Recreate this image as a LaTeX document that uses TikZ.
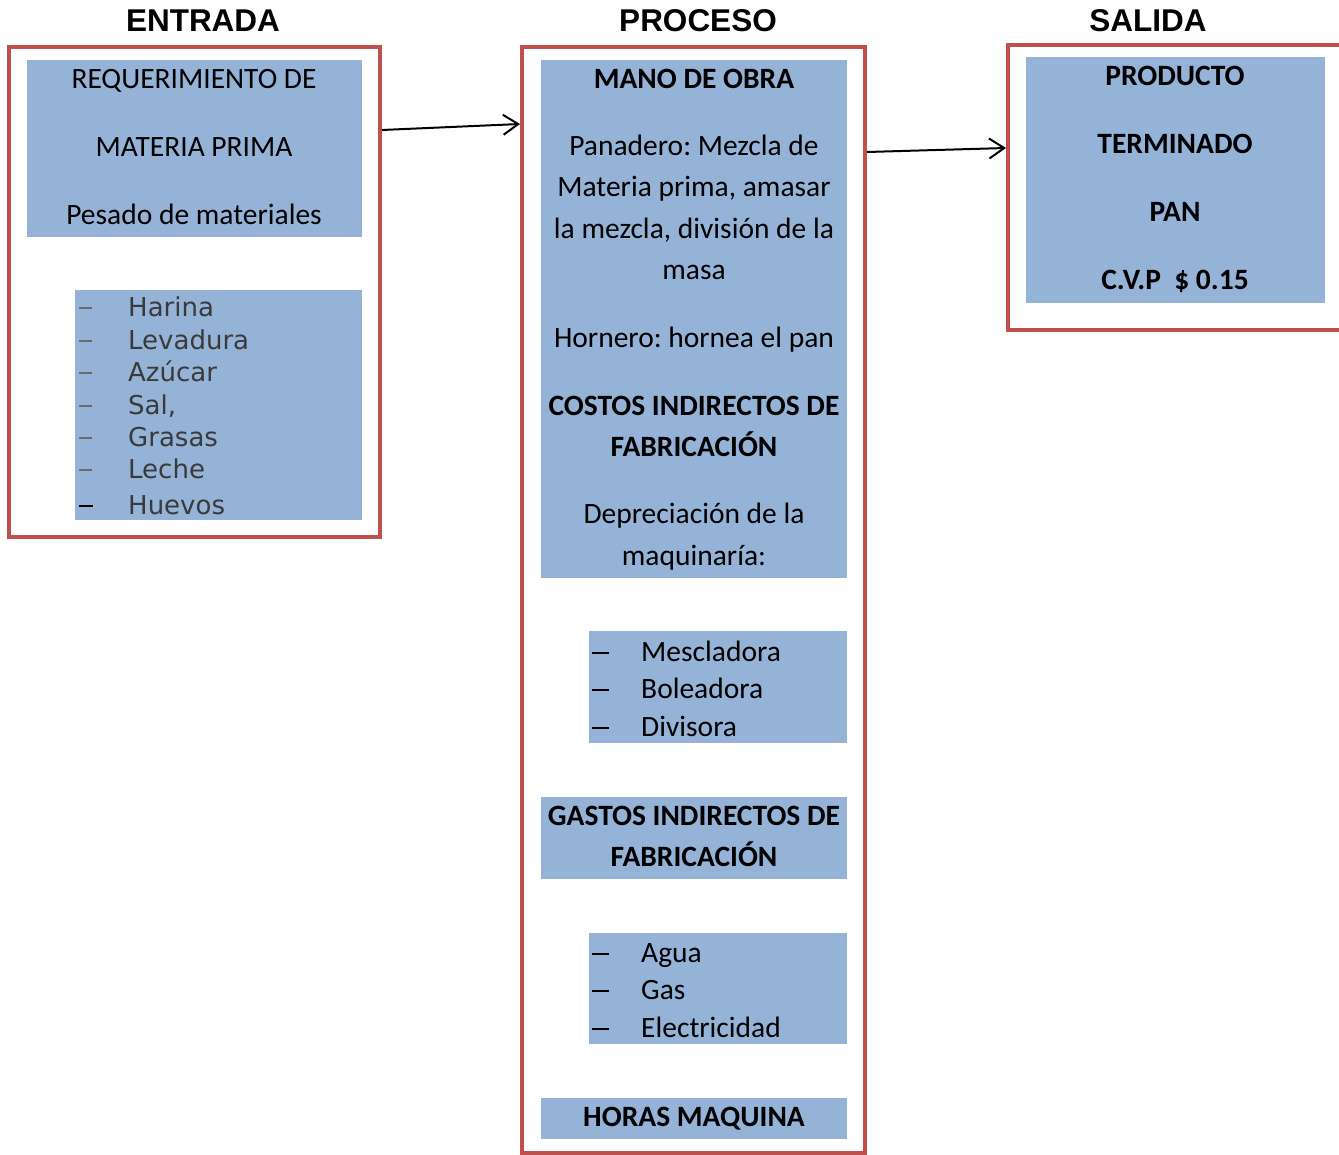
\documentclass[tikz,border=0pt]{standalone}
\usepackage{fontspec}
\setmainfont{Carlito}
\newfontfamily\hfont{Liberation Sans}
\newfontfamily\vfont{DejaVu Sans}
\usetikzlibrary{arrows.meta}
\definecolor{redb}{HTML}{C0504D}
\definecolor{blueb}{HTML}{95B3D7}
\definecolor{grayt}{HTML}{3A3A3A}
\definecolor{grayd}{HTML}{6A6A6A}
\frenchspacing
\begin{document}
\begin{tikzpicture}[x=1pt,y=-1pt,
 frame/.style={draw=redb,line width=4pt,inner sep=0pt},
 bluebox/.style={fill=blueb,inner sep=0pt},
 txt/.style={inner sep=0pt,text height=18.9pt,text depth=0pt,font=\fontsize{29.5}{34}\selectfont},
 btxt/.style={txt,font=\fontsize{29.5}{34}\selectfont\bfseries},
 head/.style={inner sep=0pt,text height=22.5pt,text depth=0pt,font=\hfont\fontsize{31.5}{36}\selectfont\bfseries},
 vtxt/.style={inner sep=0pt,text height=19pt,text depth=0pt,anchor=west,text=grayt,font=\vfont\fontsize{26}{30}\selectfont},
 ltxt/.style={txt,anchor=west},
 dashn/.style={inner sep=0pt,anchor=west},
 conn/.style={-{Straight Barb[length=15pt,width=20pt,line width=2pt]},line width=2pt}
]
\useasboundingbox[fill=white] (0,0) rectangle (1339,1155);

% headings
\node[head] (hE) at (203,20) {ENTRADA};
\node[head] (hP) at (698,20) {PROCESO};
\node[head] (hS) at (1148,20) {SALIDA};

% frames
\node[frame,minimum width=371pt,minimum height=490pt] (redL) at (194.5,292) {};
\node[frame,minimum width=343pt,minimum height=1106pt] (redM) at (693.5,600) {};
\node[frame,minimum width=352pt,minimum height=285pt] (redR) at (1184,187.5) {};

% ENTRADA
\node[bluebox,minimum width=335pt,minimum height=177pt] (b1) at (194.5,148.5) {};
\node[txt] (t11) at (194,79) {REQUERIMIENTO DE};
\node[txt] (t12) at (194,147) {MATERIA PRIMA};
\node[txt] (t13) at (194,215) {Pesado de materiales};

\node[bluebox,minimum width=287pt,minimum height=230pt] (b2) at (218.5,405) {};
\foreach \y/\w/\n in {307/Harina/a,340/Levadura/b,372/Azúcar/c,405/{Sal,}/d,437/Grasas/e,469/Leche/f}{
  \node[dashn,text=grayd] (ld\n) at (79,\y+1) {\rule{13pt}{1.3pt}};
  \node[vtxt] (lt\n) at (128,\y) {\w};
}
\node[dashn,text=black] (ldg) at (79,506) {\rule{14pt}{1.8pt}};
\node[vtxt] (ltg) at (128,505) {Huevos};

% PROCESO
\node[bluebox,minimum width=306pt,minimum height=518pt] (mA) at (694,319) {};
\node[btxt] (m1) at (694,79) {MANO DE OBRA};
\node[txt] (m2) at (694,146) {Panadero: Mezcla de};
\node[txt] (m3) at (694,187) {Materia prima, amasar};
\node[txt] (m4) at (694,229) {la mezcla, división de la};
\node[txt] (m5) at (694,270) {masa};
\node[txt] (m6) at (694,338) {Hornero: hornea el pan};
\node[btxt] (m7) at (694,406) {COSTOS INDIRECTOS DE};
\node[btxt] (m8) at (694,447) {FABRICACIÓN};
\node[txt] (m9) at (694,514) {Depreciación de la};
\node[txt] (m10) at (694,556) {maquinaría:};

\node[bluebox,minimum width=258pt,minimum height=112pt] (mL1) at (718,687) {};
\foreach \y/\w/\n in {652/Mescladora/a,689/Boleadora/b,727/Divisora/c}{
  \node[dashn] (pd\n) at (592,\y+1) {\rule{17pt}{1.6pt}};
  \node[ltxt] (pt\n) at (641,\y) {\w};
}

\node[bluebox,minimum width=306pt,minimum height=82pt] (mG) at (694,838) {};
\node[btxt] (g1) at (694,816) {GASTOS INDIRECTOS DE};
\node[btxt] (g2) at (694,857) {FABRICACIÓN};

\node[bluebox,minimum width=258pt,minimum height=111pt] (mL2) at (718,988.5) {};
\foreach \y/\w/\n in {953/Agua/a,990/Gas/b,1028/Electricidad/c}{
  \node[dashn] (qd\n) at (592,\y+1) {\rule{17pt}{1.6pt}};
  \node[ltxt] (qt\n) at (641,\y) {\w};
}

\node[bluebox,minimum width=306pt,minimum height=41pt] (mH) at (694,1118.5) {};
\node[btxt] (h1) at (694,1117) {HORAS MAQUINA};

% SALIDA
\node[bluebox,minimum width=299pt,minimum height=246pt] (rB) at (1175.5,180) {};
\node[btxt] (r1) at (1175,76) {PRODUCTO};
\node[btxt] (r2) at (1175,144) {TERMINADO};
\node[btxt] (r3) at (1175,212) {PAN};
\node[btxt] (r4) at (1175,280) {C.V.P\ \ \$ 0.15};

% connectors
\draw[conn] ([yshift=-85pt]redL.north east) -- ([yshift=-79pt]redM.north west);
\draw[conn] ([yshift=-107pt]redM.north east) -- ([yshift=-105pt]redR.north west);
\end{tikzpicture}
\end{document}
